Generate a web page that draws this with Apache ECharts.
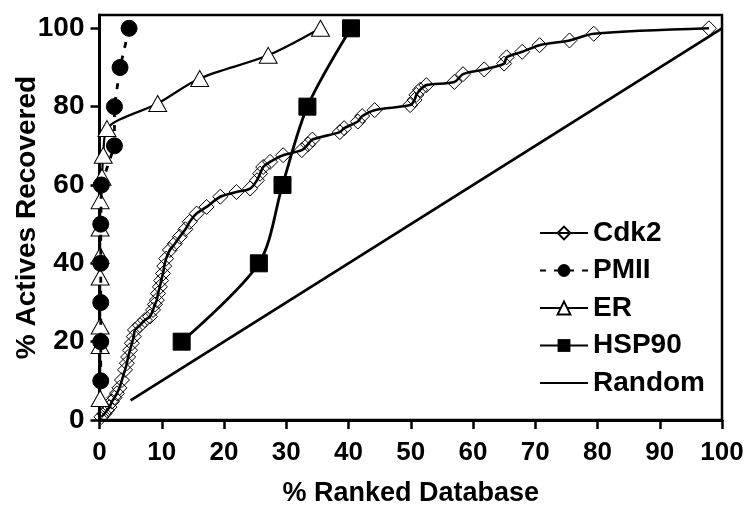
<!DOCTYPE html>
<html>
<head>
<meta charset="utf-8">
<script src="https://cdn.jsdelivr.net/npm/echarts@6/dist/echarts.min.js"></script>
<style>
html,body{margin:0;padding:0;background:#fff;}
#chart{width:747px;height:506px;}
</style>
</head>
<body>
<div id="chart"></div>
<script>
// ---- data ----
var xTicks = [0, 10, 20, 30, 40, 50, 60, 70, 80, 90, 100];
var yTicks = [0, 20, 40, 60, 80, 100];

var cdk2 = [[0.3,0.8],[0.8,1.6],[1.2,2.5],[1.6,3.3],[2.0,4.7],[2.4,5.7],[2.8,6.8],[3.2,8.2],[3.6,10.2],[4.1,12.8],[4.4,14.5],[4.6,16.1],[4.9,17.8],[5.2,19.6],[5.5,21.3],[5.7,23.0],[6.5,24.2],[7.3,25.5],[8.1,26.4],[8.6,28.1],[8.9,29.5],[9.2,30.6],[9.4,32.3],[9.7,34.0],[9.9,35.6],[10.2,37.4],[10.4,39.3],[10.7,41.2],[11.3,43.4],[12.1,45.0],[12.9,46.8],[13.8,48.7],[14.5,50.6],[15.6,52.7],[17.2,54.4],[19.4,57.0],[22.0,58.2],[24.2,59.1],[25.3,61.2],[25.8,62.9],[26.3,64.6],[27.4,65.9],[29.5,67.6],[32.5,68.9],[33.5,70.4],[34.2,71.6],[38.6,73.5],[39.3,74.5],[41.5,76.2],[42.2,77.6],[44.2,79.1],[49.9,80.4],[50.6,81.7],[50.9,83.0],[51.5,84.3],[52.5,85.5],[57.0,86.3],[58.4,88.3],[61.8,89.5],[65.0,91.0],[65.4,92.6],[67.9,94.0],[70.7,95.7],[75.5,96.9],[79.4,98.6],[97.9,100]];
var pmii = [[0.2,10],[0.2,20],[0.2,30],[0.2,40],[0.2,50],[0.3,60],[2.4,70],[2.4,80],[3.3,90],[4.75,100]];
var er = [[0.1,5.5],[0.1,19],[0.1,24],[0.1,36.5],[0.1,42],[0.1,49],[0.1,56],[0.4,62],[0.6,67.6],[1.2,74.4],[9.35,80.8],[16.1,87.2],[27.1,93.1],[35.5,100]];
var hsp90 = [[13.2,20],[25.6,40],[29.4,60],[33.4,80],[40.4,100]];
var random = [[5,5],[100,100]];

var FONT = '"Liberation Sans", Arial, sans-serif';
var chart = echarts.init(document.getElementById('chart'), null, {renderer: 'canvas'});
chart.setOption({
  animation: false,
  backgroundColor: '#fff',
  grid: {left: 99.5, right: 25, top: 15, bottom: 86, outerBoundsMode: 'none', containLabel: false,
    show: true, borderColor: '#000', borderWidth: 2.5, backgroundColor: 'transparent'},
  xAxis: {
    type: 'value', min: 0, max: 100, interval: 10,
    name: '% Ranked Database', nameLocation: 'middle', nameGap: 60, nameMoveOverlap: false,
    nameTextStyle: {fontFamily: FONT, fontWeight: 'bold', fontSize: 27, color: '#000'},
    axisLine: {show: true, lineStyle: {color: '#000', width: 3}},
    axisTick: {show: true, inside: false, length: 9, lineStyle: {color: '#000', width: 2.5}},
    axisLabel: {fontFamily: FONT, fontWeight: 'bold', fontSize: 26, color: '#000', margin: 20, customValues: xTicks},
    splitLine: {show: false}
  },
  yAxis: {
    type: 'value', min: 0, max: 103.4, interval: 20,
    name: '% Actives Recovered', nameLocation: 'middle', nameGap: 58, nameMoveOverlap: false,
    nameTextStyle: {fontFamily: FONT, fontWeight: 'bold', fontSize: 28, color: '#000'},
    axisLine: {show: true, lineStyle: {color: '#000', width: 3}},
    axisTick: {show: true, inside: false, length: 9, lineStyle: {color: '#000', width: 2.5}, customValues: yTicks},
    axisLabel: {fontFamily: FONT, fontWeight: 'bold', fontSize: 28, color: '#000', margin: 15, customValues: yTicks},
    splitLine: {show: false}
  },
  legend: {
    orient: 'vertical', left: 539, top: 219, padding: 0, itemWidth: 48, itemHeight: 16, itemGap: 9.5,
    textStyle: {fontFamily: FONT, fontWeight: 'bold', fontSize: 28, color: '#000', lineHeight: 28},
    data: ['Cdk2', 'PMII', 'ER', 'HSP90', {name: 'Random', itemStyle: {opacity: 0}}]
  },
  series: [
    {name: 'Random', type: 'line', data: random, symbol: 'none', lineStyle: {color: '#000', width: 2.8}, itemStyle: {color: '#000'}, z: 1},
    {name: 'Cdk2', type: 'line', data: cdk2, smooth: 0.3, symbol: 'diamond', symbolSize: 15,
      lineStyle: {color: '#000', width: 2.6}, itemStyle: {color: 'rgba(255,255,255,0)', borderColor: '#000', borderWidth: 1}, z: 2},
    {name: 'HSP90', type: 'line', data: hsp90, smooth: 0.3, symbol: 'rect', symbolSize: 17,
      lineStyle: {color: '#000', width: 2.8}, itemStyle: {color: '#000', borderColor: '#000'}, z: 3},
    {name: 'ER', type: 'line', data: er, smooth: 0.3, symbol: 'triangle', symbolSize: [18, 16],
      lineStyle: {color: '#000', width: 2.2}, itemStyle: {color: '#fff', borderColor: '#000', borderWidth: 1}, z: 4},
    {name: 'PMII', type: 'line', data: pmii, symbol: 'circle', symbolSize: 16,
      lineStyle: {color: '#000', width: 2.8, type: [6, 8]}, itemStyle: {color: '#000', borderColor: '#000'}, z: 5}
  ]
});
</script>
</body>
</html>
